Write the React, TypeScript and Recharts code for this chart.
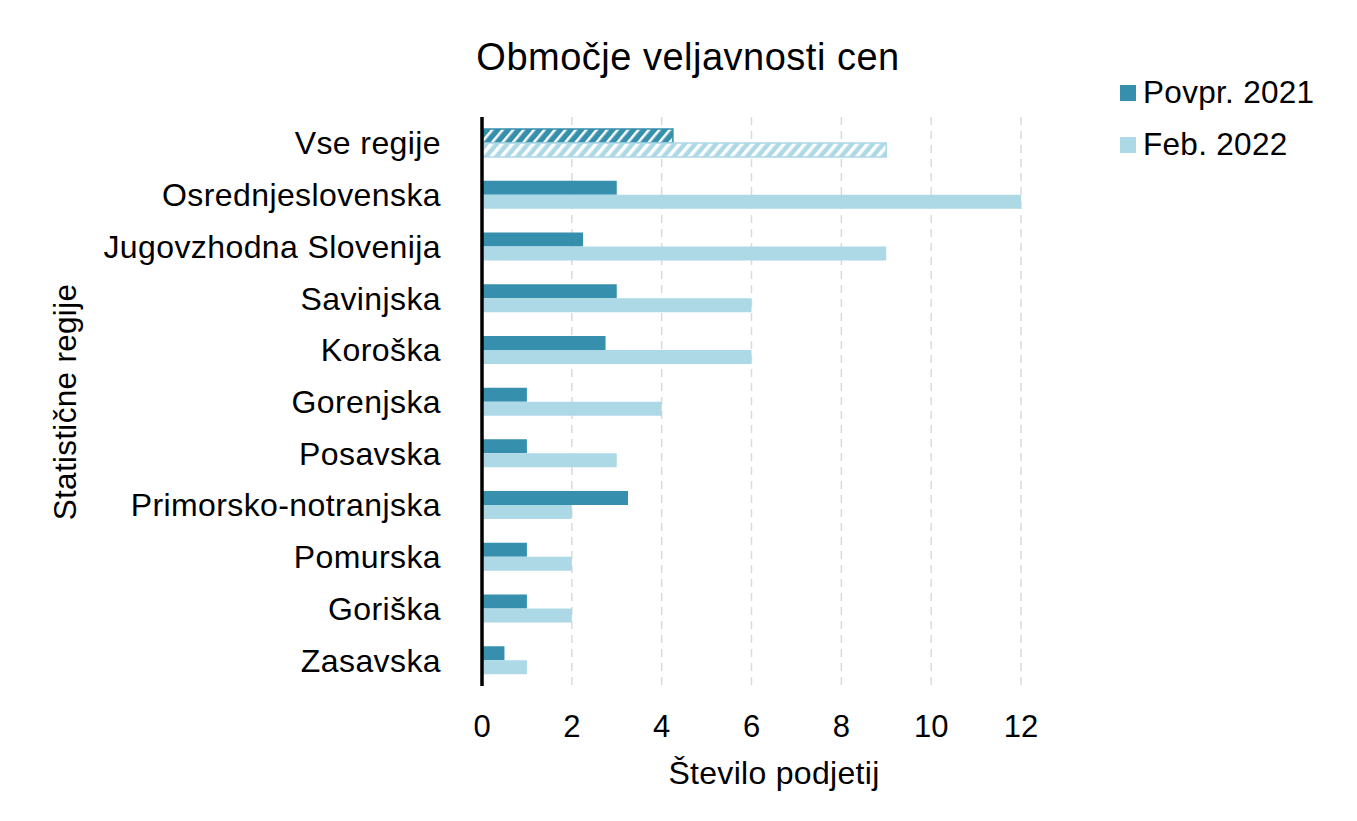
import React from "react";
import { BarChart, Bar, XAxis, YAxis, CartesianGrid, Cell } from "recharts";

const regions = [
  "Vse regije",
  "Osrednjeslovenska",
  "Jugovzhodna Slovenija",
  "Savinjska",
  "Koroška",
  "Gorenjska",
  "Posavska",
  "Primorsko-notranjska",
  "Pomurska",
  "Goriška",
  "Zasavska",
];
const povpr2021 = [4.25, 3, 2.25, 3, 2.75, 1, 1, 3.25, 1, 1, 0.5];
const feb2022 = [9, 12, 9, 6, 6, 4, 3, 2, 2, 2, 1];
const xTicks = [0, 2, 4, 6, 8, 10, 12];

const DARK = "#368fad";
const LIGHT = "#add8e6";
const FONT = "'Liberation Sans', Arial, Helvetica, sans-serif";

const series = [
  { key: "povpr", name: "Povpr. 2021", color: DARK, hatch: "url(#hatchDark)" },
  { key: "feb", name: "Feb. 2022", color: LIGHT, hatch: "url(#hatchLight)" },
];

const data = regions.map((name, i) => ({
  name,
  povpr: povpr2021[i],
  feb: feb2022[i],
}));

const RegionTick = (props: any) => {
  const { x, y, payload } = props;
  return (
    <text
      x={x}
      y={y}
      dy="0.36em"
      textAnchor="end"
      fontSize={32}
      fill="#000"
      fontFamily={FONT}
      style={{ letterSpacing: 0.4 }}
    >
      {payload.value}
    </text>
  );
};

export default function App() {
  return (
    <div style={{ position: "relative", width: 1341, height: 805, fontFamily: FONT, color: "#000" }}>
      <BarChart
        width={1341}
        height={805}
        data={data}
        layout="vertical"
        barGap={0}
        margin={{ top: 109, right: 328, left: 0, bottom: 67 }}
      >
        <defs>
          <pattern id="hatchDark" width="8" height="8" patternUnits="userSpaceOnUse" patternTransform="rotate(40)">
            <rect width="8" height="8" fill={DARK} />
            <rect width="2.5" height="8" fill="#fff" />
          </pattern>
          <pattern id="hatchLight" width="8" height="8" patternUnits="userSpaceOnUse" patternTransform="rotate(40)">
            <rect width="8" height="8" fill={LIGHT} />
            <rect width="3.5" height="8" fill="#fff" />
          </pattern>
        </defs>
        <CartesianGrid horizontal={false} stroke="#dadada" strokeWidth={1.5} strokeDasharray="8 6" />
        <XAxis
          type="number"
          domain={[0, 12]}
          ticks={xTicks}
          axisLine={false}
          tickLine={false}
          tickSize={0}
          tickMargin={29}
          height={60}
          tick={{ fontSize: 31, fill: "#000", fontFamily: FONT }}
        />
        <YAxis
          type="category"
          dataKey="name"
          width={474}
          axisLine={{ stroke: "#000", strokeWidth: 3.5 }}
          tickLine={false}
          tickSize={0}
          tickMargin={41}
          tick={<RegionTick />}
          interval={0}
        />
        {series.map((s) => (
          <Bar
            key={s.key}
            dataKey={s.key}
            name={s.name}
            fill={s.color}
            barSize={14}
            isAnimationActive={false}
          >
            {data.map((d, i) => (
              <Cell
                key={d.name}
                fill={i === 0 ? s.hatch : s.color}
                stroke={i === 0 ? s.color : "none"}
                strokeWidth={i === 0 ? 1.5 : 0}
              />
            ))}
          </Bar>
        ))}
      </BarChart>

      <div
        style={{
          position: "absolute",
          left: 680,
          top: 30,
          transform: "translateX(-50%)",
          fontSize: 38,
          lineHeight: 1,
          letterSpacing: 0.5,
          whiteSpace: "nowrap",
        }}
      >
        Območje veljavnosti cen
      </div>

      {series.map((s, i) => (
        <div
          key={s.key}
          style={{
            position: "absolute",
            left: 1112,
            top: 85 + i * 52 - 18,
            height: 36,
            display: "flex",
            alignItems: "center",
            whiteSpace: "nowrap",
          }}
        >
          <span style={{ width: 16, height: 16, background: s.color, display: "inline-block", marginRight: 7 }} />
          <span style={{ fontSize: 31.5, lineHeight: 1, letterSpacing: 0.3 }}>{s.name}</span>
        </div>
      ))}

      <div
        style={{
          position: "absolute",
          left: 58,
          top: 394,
          transform: "translate(-50%, -50%) rotate(-90deg)",
          fontSize: 31.5,
          lineHeight: 1,
          letterSpacing: 0.3,
          whiteSpace: "nowrap",
        }}
      >
        Statistične regije
      </div>

      <div
        style={{
          position: "absolute",
          left: 766,
          top: 749,
          transform: "translateX(-50%)",
          fontSize: 32,
          lineHeight: 1,
          letterSpacing: 0.3,
          whiteSpace: "nowrap",
        }}
      >
        Število podjetij
      </div>
    </div>
  );
}
